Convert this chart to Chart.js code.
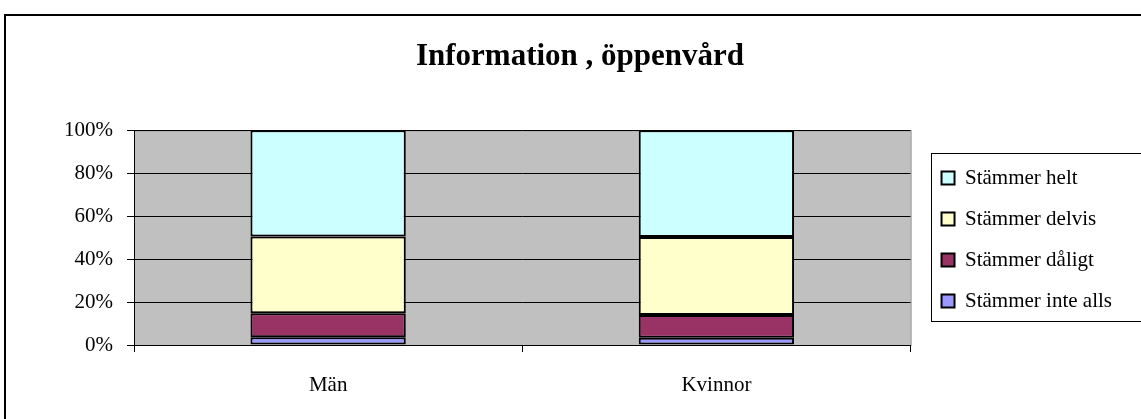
<!DOCTYPE html>
<html>
<head>
<meta charset="utf-8">
<script src="https://cdn.jsdelivr.net/npm/chart.js@4/dist/chart.umd.min.js"></script>
<style>
  html, body { margin: 0; padding: 0; background: #fff; }
  #wrap { width: 1141px; height: 419px; }
</style>
</head>
<body>
<div id="wrap"><canvas id="chart" width="1141" height="419"></canvas></div>
<script>
var categories = ['Män', 'Kvinnor'];
var seriesNames = ['Stämmer inte alls', 'Stämmer dåligt', 'Stämmer delvis', 'Stämmer helt'];
var inteAlls = [3.6, 3.4];
var daligt = [11.2, 10.6];
var delvis = [35.7, 36.3];
var helt = [49.5, 49.7];
var yTicks = [0, 20, 40, 60, 80, 100];

var colors = ['#9999FF', '#993366', '#FFFFCC', '#CCFFFF'];
var serif = '"Liberation Serif", "DejaVu Serif", serif';

// gray plot background, outer frame, legend frame
var framePlugin = {
    id: 'frame',
    afterLayout: function (chart) {
        var lg = chart.legend;
        // nudge the legend into the place it has in the original
        lg.left += 11; lg.right += 11;
        lg.top += 30; lg.bottom += 30;
    },
    beforeDraw: function (chart) {
        var ctx = chart.ctx;
        var a = chart.chartArea;
        ctx.save();
        ctx.fillStyle = '#C0C0C0';
        ctx.fillRect(a.left, a.top, a.right - a.left, a.bottom - a.top);
        ctx.strokeStyle = '#808080';
        ctx.lineWidth = 1;
        ctx.strokeRect(a.left + 0.5, a.top + 0.5, a.right - a.left, a.bottom - a.top);
        ctx.strokeStyle = '#000';
        ctx.lineWidth = 2;
        ctx.strokeRect(5, 15, 1150, 420);
        ctx.restore();
    },
    afterDraw: function (chart) {
        var ctx = chart.ctx;
        ctx.save();
        ctx.strokeStyle = '#000';
        ctx.lineWidth = 1;
        ctx.strokeRect(931.5, 153.5, 220, 168);
        ctx.restore();
    }
};

var ctx = document.getElementById('chart').getContext('2d');
var chart = new Chart(ctx, {
    type: 'bar',
    data: {
        labels: categories,
        datasets: [
            { label: seriesNames[0], data: inteAlls, backgroundColor: colors[0] },
            { label: seriesNames[1], data: daligt, backgroundColor: colors[1] },
            { label: seriesNames[2], data: delvis, backgroundColor: colors[2] },
            { label: seriesNames[3], data: helt, backgroundColor: colors[3] }
        ].map(function (d) {
            d.borderColor = '#000';
            d.borderWidth = 2;
            d.borderSkipped = false;
            d.categoryPercentage = 1;
            d.barPercentage = 0.4;
            return d;
        })
    },
    options: {
        responsive: false,
        animation: false,
        layout: { autoPadding: false, padding: { left: 49, right: 30, top: 0, bottom: 0 } },
        plugins: {
            title: {
                display: true,
                text: 'Information , öppenvård',
                color: '#000',
                font: { family: serif, size: 31, weight: 'bold' },
                padding: { top: 38, bottom: 55 }
            },
            legend: {
                position: 'right',
                reverse: true,
                labels: {
                    color: '#000',
                    font: { family: serif, size: 21 },
                    boxWidth: 13,
                    boxHeight: 13,
                    padding: 20,
                    useBorderRadius: false
                }
            },
            tooltip: { enabled: false }
        },
        scales: {
            x: {
                stacked: true,
                grid: { drawOnChartArea: false, drawTicks: true, tickLength: 7, color: '#000' },
                border: { display: false },
                ticks: { color: '#000', font: { family: serif, size: 21 }, padding: 21 },
                afterFit: function (s) { s.height = 74; }
            },
            y: {
                stacked: true,
                min: 0,
                max: 100,
                afterBuildTicks: function (s) { s.ticks = yTicks.map(function (v) { return { value: v }; }); },
                grid: { color: '#000', tickLength: 7, lineWidth: 1 },
                border: { display: true, color: '#000' },
                ticks: {
                    color: '#000',
                    font: { family: serif, size: 21 },
                    padding: 14,
                    callback: function (v) { return v + '%'; }
                },
                afterFit: function (s) { s.width = 85; }
            }
        }
    },
    plugins: [framePlugin]
});
</script>
</body>
</html>
